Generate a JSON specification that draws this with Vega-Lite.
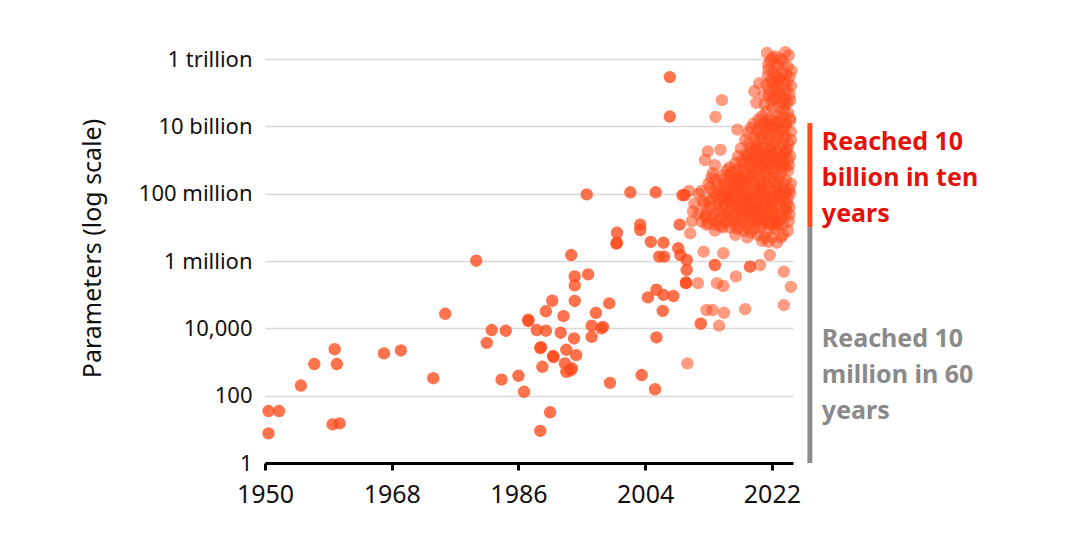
{
  "$schema": "https://vega.github.io/schema/vega-lite/v6.json",
  "autosize": "none",
  "width": 528,
  "height": 404,
  "padding": {"left": 265, "top": 59, "right": 287, "bottom": 74},
  "background": "white",
  "config": {
    "font": "Noto Sans",
    "view": {"stroke": null}
  },
  "datasets": {
    "pts": [
      {"year": 1950.5, "params": 35}, {"year": 1952.0, "params": 35}, {"year": 1950.5, "params": 7.6},
      {"year": 1955.1, "params": 200}, {"year": 1957.0, "params": 870}, {"year": 1959.9, "params": 2400},
      {"year": 1960.2, "params": 870}, {"year": 1959.6, "params": 14}, {"year": 1960.6, "params": 15},
      {"year": 1966.9, "params": 1800}, {"year": 1969.3, "params": 2200}, {"year": 1973.9, "params": 330},
      {"year": 1975.6, "params": 27000}, {"year": 1980.0, "params": 1020000}, {"year": 1981.5, "params": 3700},
      {"year": 1982.2, "params": 8900}, {"year": 1984.2, "params": 8500}, {"year": 1983.6, "params": 300},
      {"year": 1986.0, "params": 390}, {"year": 1986.8, "params": 130}, {"year": 1987.4, "params": 18000},
      {"year": 1987.4, "params": 16500}, {"year": 1988.6, "params": 8900}, {"year": 1989.9, "params": 8500},
      {"year": 1989.9, "params": 32000}, {"year": 1990.8, "params": 66000}, {"year": 1992.0, "params": 7400},
      {"year": 1992.4, "params": 23000}, {"year": 1993.9, "params": 5000}, {"year": 1989.1, "params": 2600},
      {"year": 1989.2, "params": 2750}, {"year": 1990.9, "params": 1500}, {"year": 1991.0, "params": 1400},
      {"year": 1992.8, "params": 2300}, {"year": 1994.2, "params": 1600}, {"year": 1989.4, "params": 720},
      {"year": 1992.8, "params": 510}, {"year": 1993.6, "params": 650}, {"year": 1993.4, "params": 560},
      {"year": 1992.6, "params": 910}, {"year": 1990.5, "params": 32}, {"year": 1989.1, "params": 9},
      {"year": 1993.5, "params": 1500000}, {"year": 1994.0, "params": 350000}, {"year": 1995.9, "params": 400000},
      {"year": 1994.0, "params": 190000}, {"year": 1994.0, "params": 65000}, {"year": 1998.9, "params": 55000},
      {"year": 1997.0, "params": 29000}, {"year": 1996.4, "params": 12000}, {"year": 1997.8, "params": 10000},
      {"year": 1996.4, "params": 5600}, {"year": 1998.0, "params": 11000}, {"year": 1999.0, "params": 240},
      {"year": 1995.7, "params": 95000000}, {"year": 1999.9, "params": 3300000}, {"year": 2000.0, "params": 6900000},
      {"year": 2000.0, "params": 3500000}, {"year": 2001.9, "params": 110000000}, {"year": 2003.3, "params": 12000000},
      {"year": 2003.3, "params": 8300000}, {"year": 2003.5, "params": 410}, {"year": 2004.8, "params": 3700000},
      {"year": 2005.4, "params": 155}, {"year": 2004.4, "params": 83000}, {"year": 2005.6, "params": 140000},
      {"year": 2005.5, "params": 110000000}, {"year": 2006.6, "params": 3500000}, {"year": 2006.0, "params": 1350000},
      {"year": 2006.7, "params": 1350000}, {"year": 2006.6, "params": 98000}, {"year": 2008.0, "params": 91000},
      {"year": 2006.5, "params": 33000}, {"year": 2005.6, "params": 5400}, {"year": 2007.5, "params": 290000000000},
      {"year": 2007.5, "params": 19500000000}, {"year": 2008.9, "params": 12000000}, {"year": 2008.7, "params": 2400000},
      {"year": 2009.0, "params": 1500000}, {"year": 2009.3, "params": 90000000}, {"year": 2009.9, "params": 1070000},
      {"year": 2009.9, "params": 540000}, {"year": 2009.8, "params": 220000}, {"year": 2009.8, "params": 230000},
      {"year": 2009.6, "params": 91000000},
      {"year": 2011.5, "params": 220000}, {"year": 2010.0, "params": 910}, {"year": 2011.9, "params": 14000},
      {"year": 2012.7, "params": 35000}, {"year": 2013.9, "params": 760000}, {"year": 2015.1, "params": 180000},
      {"year": 2016.9, "params": 350000}, {"year": 2020.3, "params": 760000}, {"year": 2018.9, "params": 680000},
      {"year": 2023.7, "params": 480000}, {"year": 2024.7, "params": 170000}, {"year": 2023.7, "params": 49000},
      {"year": 2018.2, "params": 37000}, {"year": 2013.6, "params": 35000}, {"year": 2015.2, "params": 29000},
      {"year": 2011.9, "params": 13500}, {"year": 2014.5, "params": 12000}, {"year": 2023.6, "params": 5900000},
      {"year": 2012.3, "params": 1900000}, {"year": 2015.1, "params": 1700000}, {"year": 2021.5, "params": 3700000},
      {"year": 2021.7, "params": 1500000}, {"year": 2023.9, "params": 23000000}, {"year": 2010.6, "params": 15000000},
      {"year": 2012.7, "params": 12000000}, {"year": 2010.4, "params": 6600000}, {"year": 2014.2, "params": 220000},
      {"year": 2013.9, "params": 760000}, {"year": 2018.9, "params": 680000},
      {"year": 2012.9, "params": 1800000000}, {"year": 2014.7, "params": 2000000000}, {"year": 2012.5, "params": 1000000000},
      {"year": 2013.9, "params": 700000000}, {"year": 2014.0, "params": 19000000000}, {"year": 2014.9, "params": 60000000000},
      {"year": 2017.1, "params": 8000000000},
      {"year": 2010.2, "params": 120000000}, {"year": 2011.0, "params": 50000000}, {"year": 2011.6, "params": 25000000},
      {"year": 2012.2, "params": 60000000}, {"year": 2013.0, "params": 200000000}, {"year": 2013.6, "params": 400000000},
      {"year": 2010.8, "params": 30000000}, {"year": 2012.0, "params": 120000000},
      {"year": 2021.3, "params": 1500000000000}, {"year": 2023.9, "params": 1600000000000}, {"year": 2022.5, "params": 1200000000000},
      {"year": 2023.2, "params": 1000000000000}, {"year": 2021.8, "params": 900000000000}, {"year": 2022.8, "params": 700000000000},
      {"year": 2024.2, "params": 600000000000}, {"year": 2021.5, "params": 500000000000}, {"year": 2022.2, "params": 400000000000},
      {"year": 2023.5, "params": 400000000000}, {"year": 2024.5, "params": 300000000000}, {"year": 2021.9, "params": 250000000000},
      {"year": 2022.9, "params": 200000000000}, {"year": 2023.8, "params": 180000000000}, {"year": 2021.2, "params": 170000000000},
      {"year": 2022.4, "params": 140000000000}, {"year": 2024.1, "params": 120000000000}, {"year": 2023.0, "params": 100000000000},
      {"year": 2021.6, "params": 80000000000}, {"year": 2022.6, "params": 70000000000}, {"year": 2024.6, "params": 60000000000},
      {"year": 2023.4, "params": 50000000000}, {"year": 2021.0, "params": 45000000000}, {"year": 2022.1, "params": 35000000000},
      {"year": 2023.7, "params": 30000000000}, {"year": 2024.3, "params": 25000000000}, {"year": 2020.6, "params": 20000000000},
      {"year": 2022.8, "params": 20000000000}, {"year": 2021.7, "params": 16000000000}, {"year": 2023.1, "params": 14000000000},
      {"year": 2024.0, "params": 12000000000}, {"year": 2020.4, "params": 11000000000}, {"year": 2021.4, "params": 10000000000},
      {"year": 2022.5, "params": 9000000000}, {"year": 2023.6, "params": 8000000000}, {"year": 2024.7, "params": 7000000000},
      {"year": 2020.2, "params": 190000000000}, {"year": 2019.5, "params": 110000000000}, {"year": 2019.8, "params": 50000000000},
      {"year": 2019.0, "params": 9000000000}, {"year": 2020.0, "params": 8000000000}, {"year": 2021.0, "params": 7000000000},
      {"year": 2022.0, "params": 6000000000}, {"year": 2023.0, "params": 6000000000}, {"year": 2024.0, "params": 5000000000},
      {"year": 2019.5, "params": 5000000000}, {"year": 2020.5, "params": 4500000000}, {"year": 2021.5, "params": 4000000000},
      {"year": 2022.5, "params": 3500000000}, {"year": 2023.5, "params": 3000000000}, {"year": 2024.4, "params": 3000000000},
      {"year": 2018.7, "params": 3000000000}, {"year": 2019.8, "params": 2500000000}, {"year": 2020.8, "params": 2200000000},
      {"year": 2021.8, "params": 2000000000}, {"year": 2022.8, "params": 1800000000}, {"year": 2023.8, "params": 1600000000},
      {"year": 2018.3, "params": 1500000000}, {"year": 2019.3, "params": 1400000000}, {"year": 2020.3, "params": 1300000000},
      {"year": 2021.3, "params": 1200000000}, {"year": 2022.3, "params": 1100000000}, {"year": 2023.3, "params": 1000000000},
      {"year": 2024.3, "params": 1000000000}, {"year": 2017.8, "params": 1000000000}, {"year": 2018.9, "params": 900000000},
      {"year": 2019.9, "params": 800000000}, {"year": 2020.9, "params": 800000000}, {"year": 2021.9, "params": 700000000},
      {"year": 2022.9, "params": 700000000}, {"year": 2023.9, "params": 600000000},
      {"year": 2016.0, "params": 600000000}, {"year": 2017.0, "params": 500000000}, {"year": 2018.0, "params": 500000000},
      {"year": 2019.0, "params": 400000000}, {"year": 2020.0, "params": 400000000}, {"year": 2021.0, "params": 350000000},
      {"year": 2022.0, "params": 300000000}, {"year": 2023.0, "params": 300000000}, {"year": 2024.0, "params": 250000000},
      {"year": 2016.5, "params": 300000000}, {"year": 2017.5, "params": 250000000}, {"year": 2018.5, "params": 220000000},
      {"year": 2019.5, "params": 200000000}, {"year": 2020.5, "params": 180000000}, {"year": 2021.5, "params": 160000000},
      {"year": 2022.5, "params": 150000000}, {"year": 2023.5, "params": 140000000}, {"year": 2024.5, "params": 130000000},
      {"year": 2015.5, "params": 200000000}, {"year": 2016.2, "params": 150000000}, {"year": 2017.2, "params": 120000000},
      {"year": 2018.2, "params": 110000000}, {"year": 2019.2, "params": 100000000}, {"year": 2020.2, "params": 100000000},
      {"year": 2021.2, "params": 90000000}, {"year": 2022.2, "params": 80000000}, {"year": 2023.2, "params": 80000000},
      {"year": 2024.2, "params": 70000000}, {"year": 2014.5, "params": 120000000}, {"year": 2015.0, "params": 90000000},
      {"year": 2016.0, "params": 80000000}, {"year": 2017.0, "params": 70000000}, {"year": 2018.0, "params": 60000000},
      {"year": 2019.0, "params": 60000000}, {"year": 2020.0, "params": 50000000}, {"year": 2021.0, "params": 50000000},
      {"year": 2022.0, "params": 45000000}, {"year": 2023.0, "params": 40000000}, {"year": 2024.0, "params": 35000000},
      {"year": 2013.5, "params": 70000000}, {"year": 2014.2, "params": 50000000}, {"year": 2015.2, "params": 45000000},
      {"year": 2016.4, "params": 40000000}, {"year": 2017.4, "params": 35000000}, {"year": 2018.4, "params": 30000000},
      {"year": 2019.4, "params": 30000000}, {"year": 2020.4, "params": 25000000}, {"year": 2021.4, "params": 25000000},
      {"year": 2022.4, "params": 20000000}, {"year": 2023.4, "params": 20000000}, {"year": 2012.8, "params": 30000000},
      {"year": 2013.8, "params": 25000000}, {"year": 2014.8, "params": 20000000}, {"year": 2015.8, "params": 20000000},
      {"year": 2016.8, "params": 18000000}, {"year": 2017.8, "params": 16000000}, {"year": 2018.8, "params": 15000000},
      {"year": 2019.8, "params": 14000000}, {"year": 2020.8, "params": 13000000}, {"year": 2021.8, "params": 12000000},
      {"year": 2022.8, "params": 11000000}, {"year": 2012.0, "params": 15000000}, {"year": 2013.0, "params": 13000000},
      {"year": 2014.0, "params": 12000000}, {"year": 2015.0, "params": 10000000}, {"year": 2016.0, "params": 10000000},
      {"year": 2017.0, "params": 9000000}, {"year": 2018.0, "params": 8000000}, {"year": 2019.0, "params": 7000000},
      {"year": 2020.0, "params": 6000000}, {"year": 2021.0, "params": 5000000}, {"year": 2022.0, "params": 5000000},
      {"year": 2019.2, "params": 600000000}, {"year": 2020.1, "params": 300000000}, {"year": 2021.1, "params": 200000000},
      {"year": 2022.1, "params": 120000000}, {"year": 2023.1, "params": 60000000}, {"year": 2019.6, "params": 150000000},
      {"year": 2020.7, "params": 70000000}, {"year": 2021.7, "params": 40000000}, {"year": 2018.6, "params": 40000000},
      {"year": 2017.6, "params": 60000000}, {"year": 2016.6, "params": 100000000}, {"year": 2019.9, "params": 2200000000},
      {"year": 2020.6, "params": 1600000000}, {"year": 2021.6, "params": 600000000}, {"year": 2022.6, "params": 400000000},
      {"year": 2023.6, "params": 200000000}, {"year": 2024.6, "params": 100000000}, {"year": 2018.1, "params": 200000000},
      {"year": 2017.1, "params": 150000000}, {"year": 2016.1, "params": 250000000}, {"year": 2015.4, "params": 120000000},
      {"year": 2014.6, "params": 70000000},
      {"year": 2022.1, "params": 1100000000000}, {"year": 2023.6, "params": 850000000000}, {"year": 2024.4, "params": 1300000000000},
      {"year": 2022.7, "params": 550000000000}, {"year": 2021.4, "params": 320000000000}, {"year": 2024.0, "params": 360000000000},
      {"year": 2023.1, "params": 270000000000}, {"year": 2022.0, "params": 190000000000}, {"year": 2024.7, "params": 160000000000},
      {"year": 2021.6, "params": 125000000000}, {"year": 2023.3, "params": 95000000000}, {"year": 2022.3, "params": 65000000000},
      {"year": 2024.2, "params": 52000000000}, {"year": 2021.2, "params": 28000000000}, {"year": 2023.9, "params": 44000000000},
      {"year": 2022.9, "params": 37000000000}, {"year": 2021.9, "params": 58000000000}, {"year": 2024.5, "params": 90000000000},
      {"year": 2023.0, "params": 230000000000}, {"year": 2022.6, "params": 300000000000}, {"year": 2021.5, "params": 700000000000},
      {"year": 2024.8, "params": 450000000000}, {"year": 2022.2, "params": 15000000000}, {"year": 2023.4, "params": 19000000000},
      {"year": 2024.6, "params": 17000000000}, {"year": 2021.1, "params": 13500000000}, {"year": 2020.9, "params": 85000000000},
      {"year": 2022.7, "params": 110000000000}, {"year": 2023.8, "params": 68000000000}, {"year": 2024.1, "params": 210000000000},
      {"year": 2018.6, "params": 6500000000}, {"year": 2019.4, "params": 12000000000}, {"year": 2020.1, "params": 16000000000},
      {"year": 2020.9, "params": 12500000000}, {"year": 2021.9, "params": 11000000000}, {"year": 2022.9, "params": 13000000000},
      {"year": 2023.9, "params": 9500000000}, {"year": 2024.6, "params": 15000000000}, {"year": 2019.1, "params": 2200000000},
      {"year": 2019.7, "params": 3600000000}, {"year": 2020.3, "params": 6200000000}, {"year": 2020.9, "params": 3200000000},
      {"year": 2021.4, "params": 5500000000}, {"year": 2021.8, "params": 8500000000}, {"year": 2022.2, "params": 2700000000},
      {"year": 2022.7, "params": 4800000000}, {"year": 2023.2, "params": 7500000000}, {"year": 2023.7, "params": 4200000000},
      {"year": 2024.2, "params": 2100000000}, {"year": 2024.7, "params": 4000000000}, {"year": 2018.2, "params": 4000000000},
      {"year": 2018.9, "params": 1700000000}, {"year": 2019.5, "params": 1100000000}, {"year": 2020.0, "params": 1900000000},
      {"year": 2020.6, "params": 1100000000}, {"year": 2021.1, "params": 1500000000}, {"year": 2021.6, "params": 2600000000},
      {"year": 2022.1, "params": 1600000000}, {"year": 2022.6, "params": 1200000000}, {"year": 2023.0, "params": 2300000000},
      {"year": 2023.5, "params": 1400000000}, {"year": 2024.0, "params": 1900000000}, {"year": 2024.6, "params": 1300000000},
      {"year": 2017.6, "params": 2200000000}, {"year": 2018.0, "params": 800000000}, {"year": 2018.5, "params": 1200000000},
      {"year": 2019.0, "params": 650000000}, {"year": 2019.6, "params": 900000000}, {"year": 2020.4, "params": 650000000},
      {"year": 2021.2, "params": 950000000}, {"year": 2021.9, "params": 1300000000}, {"year": 2022.4, "params": 850000000},
      {"year": 2023.1, "params": 1250000000}, {"year": 2023.7, "params": 800000000}, {"year": 2024.4, "params": 700000000},
      {"year": 2017.2, "params": 1300000000}, {"year": 2016.8, "params": 800000000}, {"year": 2017.5, "params": 600000000},
      {"year": 2014.0, "params": 250000000}, {"year": 2014.9, "params": 350000000}, {"year": 2015.6, "params": 500000000},
      {"year": 2016.3, "params": 420000000}, {"year": 2017.3, "params": 320000000}, {"year": 2018.3, "params": 380000000},
      {"year": 2019.3, "params": 300000000}, {"year": 2020.3, "params": 240000000}, {"year": 2021.3, "params": 450000000},
      {"year": 2022.3, "params": 220000000}, {"year": 2023.3, "params": 420000000}, {"year": 2024.3, "params": 480000000},
      {"year": 2013.2, "params": 150000000}, {"year": 2014.1, "params": 90000000}, {"year": 2015.1, "params": 160000000},
      {"year": 2016.1, "params": 60000000}, {"year": 2016.9, "params": 210000000}, {"year": 2017.9, "params": 140000000},
      {"year": 2018.8, "params": 80000000}, {"year": 2019.8, "params": 120000000}, {"year": 2020.8, "params": 140000000},
      {"year": 2021.8, "params": 80000000}, {"year": 2022.8, "params": 180000000}, {"year": 2023.8, "params": 100000000},
      {"year": 2024.7, "params": 200000000}, {"year": 2012.4, "params": 50000000}, {"year": 2013.3, "params": 40000000},
      {"year": 2014.4, "params": 32000000}, {"year": 2015.3, "params": 65000000}, {"year": 2016.2, "params": 28000000},
      {"year": 2017.2, "params": 45000000}, {"year": 2018.2, "params": 22000000}, {"year": 2019.2, "params": 42000000},
      {"year": 2020.2, "params": 33000000}, {"year": 2021.2, "params": 65000000}, {"year": 2022.2, "params": 30000000},
      {"year": 2023.2, "params": 26000000}, {"year": 2024.2, "params": 50000000}, {"year": 2011.6, "params": 100000000},
      {"year": 2012.6, "params": 20000000}, {"year": 2013.6, "params": 18000000}, {"year": 2014.7, "params": 11000000},
      {"year": 2015.7, "params": 30000000}, {"year": 2016.7, "params": 13000000}, {"year": 2017.7, "params": 25000000},
      {"year": 2018.7, "params": 10000000}, {"year": 2019.7, "params": 20000000}, {"year": 2020.7, "params": 18000000},
      {"year": 2021.6, "params": 16000000}, {"year": 2022.6, "params": 14000000}, {"year": 2023.6, "params": 12000000},
      {"year": 2024.4, "params": 15000000}, {"year": 2015.9, "params": 55000000}, {"year": 2016.5, "params": 180000000},
      {"year": 2017.7, "params": 90000000}, {"year": 2018.4, "params": 65000000}, {"year": 2019.4, "params": 75000000},
      {"year": 2020.6, "params": 40000000}, {"year": 2021.9, "params": 22000000}, {"year": 2023.0, "params": 90000000},
      {"year": 2024.0, "params": 110000000}, {"year": 2017.9, "params": 300000000}, {"year": 2019.7, "params": 500000000},
      {"year": 2020.8, "params": 600000000}, {"year": 2022.4, "params": 550000000}, {"year": 2023.4, "params": 650000000},
      {"year": 2018.6, "params": 170000000}, {"year": 2019.1, "params": 25000000}, {"year": 2020.1, "params": 15000000},
      {"year": 2021.4, "params": 8000000}, {"year": 2022.4, "params": 9000000}, {"year": 2019.5, "params": 9000000},
      {"year": 2017.4, "params": 10000000}, {"year": 2015.4, "params": 14000000}, {"year": 2013.9, "params": 8000000},
      {"year": 2016.8, "params": 6000000}, {"year": 2018.5, "params": 5000000}, {"year": 2020.6, "params": 4000000},
      {"year": 2022.7, "params": 3500000}, {"year": 2023.3, "params": 5000000}, {"year": 2024.3, "params": 8000000},
      {"year": 2012.5, "params": 22000000}, {"year": 2013.1, "params": 60000000}, {"year": 2013.7, "params": 110000000},
      {"year": 2014.3, "params": 16000000}, {"year": 2014.8, "params": 40000000}, {"year": 2015.3, "params": 23000000},
      {"year": 2015.8, "params": 80000000}, {"year": 2016.3, "params": 16000000}, {"year": 2016.9, "params": 30000000},
      {"year": 2017.4, "params": 18000000}, {"year": 2017.9, "params": 40000000}, {"year": 2018.4, "params": 12000000},
      {"year": 2018.9, "params": 28000000}, {"year": 2019.3, "params": 17000000}, {"year": 2019.9, "params": 38000000},
      {"year": 2020.4, "params": 10000000}, {"year": 2020.9, "params": 24000000}, {"year": 2021.5, "params": 14000000},
      {"year": 2022.0, "params": 32000000}, {"year": 2022.5, "params": 12000000}, {"year": 2023.1, "params": 16000000},
      {"year": 2023.8, "params": 35000000}, {"year": 2024.5, "params": 24000000}, {"year": 2013.4, "params": 300000000},
      {"year": 2014.3, "params": 180000000}, {"year": 2015.0, "params": 260000000}, {"year": 2015.7, "params": 110000000},
      {"year": 2016.4, "params": 70000000}, {"year": 2017.0, "params": 280000000}, {"year": 2017.6, "params": 180000000},
      {"year": 2018.1, "params": 90000000}, {"year": 2018.8, "params": 280000000}, {"year": 2019.5, "params": 55000000},
      {"year": 2020.3, "params": 150000000}, {"year": 2020.9, "params": 90000000}, {"year": 2021.5, "params": 280000000},
      {"year": 2022.1, "params": 55000000}, {"year": 2022.9, "params": 110000000}, {"year": 2023.6, "params": 60000000},
      {"year": 2024.5, "params": 40000000}, {"year": 2016.0, "params": 350000000}
    ],
    "bars": [
      {"x": 2027.4, "lo": 10000000, "hi": 12500000000, "group": "fast"},
      {"x": 2027.4, "lo": 1, "hi": 10000000, "group": "slow"}
    ],
    "notes": [
      {"x": 2029.1, "y": 2000000000, "group": "fast", "label": ["Reached 10", "billion in ten", "years"]},
      {"x": 2029.1, "y": 2800, "group": "slow", "label": ["Reached 10", "million in 60", "years"]}
    ]
  },
  "layer": [
    {
      "data": {"name": "pts"},
      "mark": {"type": "circle", "size": 154, "color": "#ff4a1c", "clip": false},
      "encoding": {
        "x": {
          "field": "year", "type": "quantitative",
          "scale": {"domain": [1950, 2025], "nice": false, "zero": false},
          "axis": {
            "values": [1950, 1968, 1986, 2004, 2022], "format": "d", "title": null,
            "grid": false, "domainColor": "#000000", "domainWidth": 3, "labelFlush": false,
            "tickColor": "#000000", "tickWidth": 3, "tickSize": 7,
            "labelFontSize": 25, "labelColor": "#111111", "labelPadding": 12
          }
        },
        "y": {
          "field": "params", "type": "quantitative",
          "scale": {"type": "log", "domain": [1, 1000000000000], "nice": false},
          "axis": {
            "values": [1, 100, 10000, 1000000, 100000000, 10000000000, 1000000000000],
            "labelExpr": "datum.value == 1 ? '1' : datum.value == 100 ? '100' : datum.value == 10000 ? '10,000' : datum.value == 1000000 ? '1 million' : datum.value == 100000000 ? '100 million' : datum.value == 10000000000 ? '10 billion' : '1 trillion'",
            "title": "Parameters (log scale)", "titleFontSize": 25, "titleFontWeight": "normal",
            "titleColor": "#111111", "titlePadding": 33, "titleY": 189,
            "domain": false, "ticks": false, "grid": true, "gridColor": "#d9d9d9", "gridWidth": 1.5,
            "labelFontSize": 22, "labelColor": "#111111", "labelPadding": 13
          }
        },
        "opacity": {"condition": {"test": "datum.year >= 2010", "value": 0.55}, "value": 0.78}
      }
    },
    {
      "data": {"name": "bars"},
      "transform": [{"filter": "datum.group == 'fast'"}],
      "mark": {"type": "rule", "color": "#ff4a1c", "strokeWidth": 5, "clip": false},
      "encoding": {
        "x": {"field": "x", "type": "quantitative"},
        "y": {"field": "lo", "type": "quantitative"},
        "y2": {"field": "hi"}
      }
    },
    {
      "data": {"name": "bars"},
      "transform": [{"filter": "datum.group == 'slow'"}],
      "mark": {"type": "rule", "color": "#8c8c8c", "strokeWidth": 5, "clip": false},
      "encoding": {
        "x": {"field": "x", "type": "quantitative"},
        "y": {"field": "lo", "type": "quantitative"},
        "y2": {"field": "hi"}
      }
    },
    {
      "data": {"name": "notes"},
      "transform": [{"filter": "datum.group == 'fast'"}],
      "mark": {"type": "text", "align": "left", "baseline": "alphabetic", "fontSize": 25, "fontWeight": "bold", "lineHeight": 36, "color": "#e3120b"},
      "encoding": {
        "x": {"field": "x", "type": "quantitative"},
        "y": {"field": "y", "type": "quantitative"},
        "text": {"field": "label"}
      }
    },
    {
      "data": {"name": "notes"},
      "transform": [{"filter": "datum.group == 'slow'"}],
      "mark": {"type": "text", "align": "left", "baseline": "alphabetic", "fontSize": 25, "fontWeight": "bold", "lineHeight": 36, "color": "#8a8a8a"},
      "encoding": {
        "x": {"field": "x", "type": "quantitative"},
        "y": {"field": "y", "type": "quantitative"},
        "text": {"field": "label"}
      }
    }
  ]
}
